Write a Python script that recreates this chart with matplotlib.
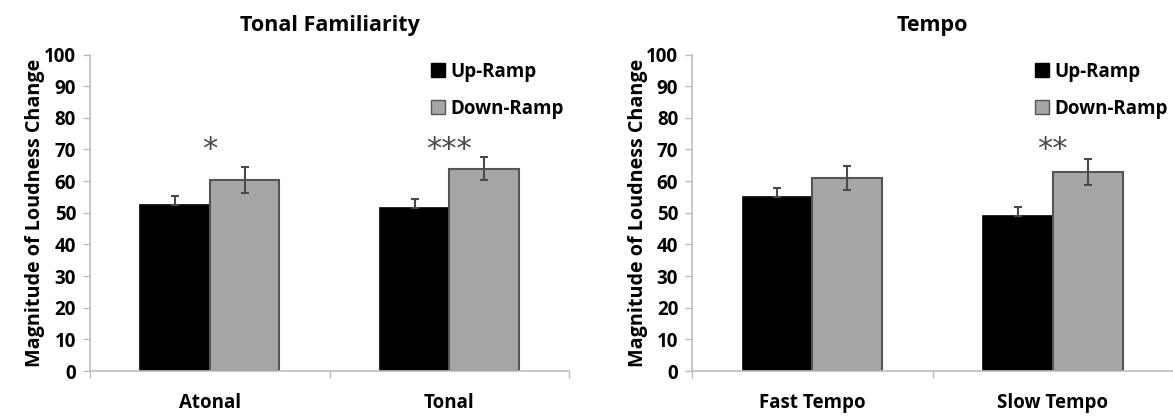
import matplotlib
matplotlib.use("Agg")
import matplotlib.pyplot as plt
from matplotlib.patches import Patch
import numpy as np

plt.rcParams['font.family'] = ['Open Sans', 'DejaVu Sans']

# data
tonal_cats = ["Atonal", "Tonal"]
tonal_up = [52.6, 51.6]
tonal_up_err = [2.7, 2.6]
tonal_down = [60.4, 63.9]
tonal_down_err = [4.1, 3.7]
tonal_stars = ["*", "***"]

tempo_cats = ["Fast Tempo", "Slow Tempo"]
tempo_up = [55.0, 49.0]
tempo_up_err = [2.9, 2.9]
tempo_down = [61.0, 62.8]
tempo_down_err = [3.9, 4.1]
tempo_stars = ["", "**"]

series_names = ["Up-Ramp", "Down-Ramp"]
yticks = list(range(0, 101, 10))

UP_COL = "black"
DOWN_COL = "#a6a6a6"
SPINE_COL = "#bdbdbd"
ERR_COL = "#4a4a4a"
WT = "bold"

fig = plt.figure(figsize=(11.73, 4.18), dpi=100)
ax1 = fig.add_axes([0.0767, 0.1124, 0.4085, 0.7572])
ax2 = fig.add_axes([0.5900, 0.1124, 0.4100, 0.7572])


def draw_panel(ax, title, cats, up, up_err, down, down_err, stars):
    x = np.arange(len(cats))
    w = 0.29
    ax.bar(x - w / 2, up, w, color=UP_COL, edgecolor=UP_COL, linewidth=1.2, zorder=2)
    ax.bar(x + w / 2, down, w, color=DOWN_COL, edgecolor="#555555", linewidth=1.5, zorder=2)
    ax.errorbar(x - w / 2, up, yerr=[np.zeros(len(up)), up_err], fmt="none",
                ecolor=ERR_COL, elinewidth=1.5, capsize=3, capthick=1.5, zorder=3)
    ax.errorbar(x + w / 2, down, yerr=down_err, fmt="none",
                ecolor=ERR_COL, elinewidth=1.5, capsize=3, capthick=1.5, zorder=3)
    for xi, s in zip(x, stars):
        if s:
            ax.text(xi, 70.0, s, ha="center", va="center", fontsize=22,
                    color="#4a4a4a", family="DejaVu Sans")

    ax.set_xlim(-0.5, len(cats) - 0.5)
    ax.set_ylim(0, 100)
    ax.set_yticks(yticks)
    ax.tick_params(axis="y", labelsize=13.5, length=5, width=1, color=SPINE_COL, pad=5)
    ax.set_xticks(np.arange(len(cats) + 1) - 0.5)
    ax.set_xticklabels([])
    ax.tick_params(axis="x", which="major", length=5, width=1, color=SPINE_COL)
    ax.set_xticks(x, minor=True)
    ax.set_xticklabels(cats, minor=True)
    ax.tick_params(axis="x", which="minor", length=0, labelsize=13.5, pad=16)
    for lab in ax.get_yticklabels() + ax.get_xticklabels(minor=True):
        lab.set_fontweight(WT)

    for sp in ["top", "right"]:
        ax.spines[sp].set_visible(False)
    for sp in ["left", "bottom"]:
        ax.spines[sp].set_color(SPINE_COL)
        ax.spines[sp].set_linewidth(1.2)

    ax.set_ylabel("Magnitude of Loudness Change", fontsize=14.2, fontweight=WT, labelpad=-1)
    ax.set_title(title, fontsize=15.5, fontweight=WT, pad=17)

    handles = [Patch(facecolor=UP_COL, edgecolor=UP_COL),
               Patch(facecolor=DOWN_COL, edgecolor="#555555")]
    leg = ax.legend(handles, series_names, loc="upper right", bbox_to_anchor=(1.025, 1.03),
                    frameon=False, fontsize=13.5, handlelength=0.75, handleheight=0.75,
                    handletextpad=0.3, labelspacing=0.9)
    for t in leg.get_texts():
        t.set_fontweight(WT)


draw_panel(ax1, "Tonal Familiarity", tonal_cats, tonal_up, tonal_up_err,
           tonal_down, tonal_down_err, tonal_stars)
draw_panel(ax2, "Tempo", tempo_cats, tempo_up, tempo_up_err,
           tempo_down, tempo_down_err, tempo_stars)

fig.savefig("out.png", dpi=100)
